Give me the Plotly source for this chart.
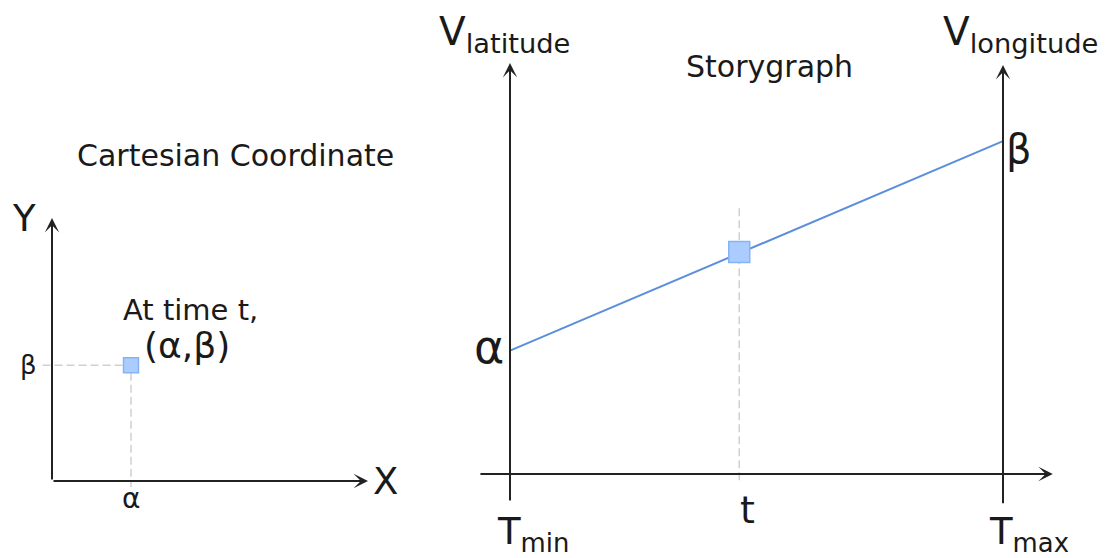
import plotly.graph_objects as go

W, H = 1106, 558

# ---------------- data ----------------
# Cartesian panel (axis units 0..1)
cart_axis_tip = [1.0, 1.0]          # X tip, Y tip
cart_alpha = [0.25]                 # x of the point
cart_beta = [0.44]                  # y of the point
cart_axis_labels = ["X", "Y"]
cart_tick_labels = ["α", "β"]
cart_point_labels = ["At time t,", "(α,β)"]

# Storygraph panel (time 0..1, value 0..1)
story_time = [0.0, 1.0]             # T_min, T_max
story_value = [0.30, 0.81]          # α on V_latitude, β on V_longitude
story_mark_time = [0.465]           # t
story_mark_value = [0.54]
story_time_labels = ["T<sub>min</sub>", "t", "T<sub>max</sub>"]
story_axis_labels = ["V<sub>latitude</sub>", "V<sub>longitude</sub>"]
story_value_labels = ["α", "β"]
titles = ["Cartesian Coordinate", "Storygraph"]

# ---------------- layout helpers ----------------
def xdom(px0, ppu, r):
    return [(px0 + r[0] * ppu) / W, (px0 + r[1] * ppu) / W]

def ydom(py0, ppu, r):
    return [(H - (py0 - r[0] * ppu)) / H, (H - (py0 - r[1] * ppu)) / H]

c_xr, c_yr = [-0.1, 1.15], [-0.1, 1.1]
s_xr, s_yr = [-0.12, 1.15], [-0.1, 1.05]

INK = "#1a1a1a"
AXC = "#222222"
FONT = "DejaVu Sans"
LINE_BLUE = "#5b8edb"
MARK_FILL = "#aaccff"
MARK_EDGE = "#86b3f7"
DASH_C = "#d0d0d0"

fig = go.Figure()

# Cartesian dashed guides
fig.add_trace(go.Scatter(
    x=[-0.03, cart_alpha[0], cart_alpha[0]],
    y=[cart_beta[0], cart_beta[0], -0.023],
    mode="lines", line=dict(color=DASH_C, width=1.5, dash="8px,4px"),
    xaxis="x", yaxis="y", hoverinfo="skip"))
fig.add_trace(go.Scatter(
    x=cart_alpha, y=cart_beta, mode="markers",
    marker=dict(symbol="square", size=15, color=MARK_FILL,
                line=dict(color=MARK_EDGE, width=1.5)),
    xaxis="x", yaxis="y", hoverinfo="skip"))

# Storygraph dashed guide at t
fig.add_trace(go.Scatter(
    x=[story_mark_time[0], story_mark_time[0]], y=[-0.015, 0.647],
    mode="lines", line=dict(color=DASH_C, width=1.5, dash="8px,4px"),
    xaxis="x2", yaxis="y2", hoverinfo="skip"))
fig.add_trace(go.Scatter(
    x=story_time, y=story_value, mode="lines",
    line=dict(color=LINE_BLUE, width=2),
    xaxis="x2", yaxis="y2", hoverinfo="skip"))
fig.add_trace(go.Scatter(
    x=story_mark_time, y=story_mark_value, mode="markers",
    marker=dict(symbol="square", size=21, color=MARK_FILL,
                line=dict(color=MARK_EDGE, width=1.5)),
    xaxis="x2", yaxis="y2", hoverinfo="skip"))

ann = []

def arrow(xh, yh, xt, yt, xr, yr):
    ann.append(dict(x=xh, y=yh, ax=xt, ay=yt, xref=xr, yref=yr,
                    axref=xr, ayref=yr, text="", showarrow=True,
                    arrowhead=3, arrowsize=1.2, arrowwidth=2,
                    arrowcolor=AXC, standoff=0))

# Cartesian axes
arrow(cart_axis_tip[0], 0, 0, 0, "x", "y")
arrow(0, cart_axis_tip[1], 0, 0, "x", "y")
# Storygraph axes
arrow(1.101, 0, -0.063, 0, "x2", "y2")
arrow(story_time[0], 1.0, story_time[0], -0.068, "x2", "y2")
arrow(story_time[1], 0.995, story_time[1], -0.075, "x2", "y2")

def label(text, x, y, xr, yr, size, xs=0, ys=0, xa="center"):
    ann.append(dict(text=text, x=x, y=y, xref=xr, yref=yr, showarrow=False,
                    xshift=xs, yshift=ys, xanchor=xa, yanchor="middle",
                    font=dict(family=FONT, size=size, color=INK)))

# Cartesian labels
label(cart_axis_labels[0], cart_axis_tip[0], 0, "x", "y", 37, xs=17, ys=0)
label(cart_axis_labels[1], 0, cart_axis_tip[1], "x", "y", 37, xs=-28, ys=0)
label(cart_tick_labels[0], cart_alpha[0], 0, "x", "y", 28, ys=-17)
label(cart_tick_labels[1], 0, cart_beta[0], "x", "y", 26, xs=-24, ys=0)
label(cart_point_labels[0], cart_alpha[0], cart_beta[0], "x", "y", 29, xs=59, ys=55)
label(cart_point_labels[1], cart_alpha[0], cart_beta[0], "x", "y", 36, xs=56, ys=20)

# Storygraph labels
label(story_value_labels[0], story_time[0], story_value[0], "x2", "y2", 46, xs=-21, ys=4)
label(story_value_labels[1], story_time[1], story_value[1], "x2", "y2", 40, xs=16, ys=-8)
label(story_time_labels[0], story_time[0], 0, "x2", "y2", 37, xs=23, ys=-60)
label(story_time_labels[1], story_mark_time[0], 0, "x2", "y2", 38, xs=8, ys=-36)
label(story_time_labels[2], story_time[1], 0, "x2", "y2", 37, xs=26, ys=-60)
label(story_axis_labels[0], story_time[0], 1.0, "x2", "y2", 39, xs=-6, ys=29)
label(story_axis_labels[1], story_time[1], 1.0, "x2", "y2", 39, xs=17, ys=29)

# Titles
label(titles[0], 235 / W, 1 - 156 / H, "paper", "paper", 30)
label(titles[1], 769 / W, 1 - 66 / H, "paper", "paper", 30)

ax_common = dict(visible=False, fixedrange=True)
fig.update_layout(
    width=W, height=H, autosize=False,
    margin=dict(l=0, r=0, t=0, b=0),
    paper_bgcolor="white", plot_bgcolor="white",
    showlegend=False,
    xaxis=dict(domain=xdom(52, 316, c_xr), range=c_xr, **ax_common),
    yaxis=dict(domain=ydom(481, 263, c_yr), range=c_yr, **ax_common),
    xaxis2=dict(domain=xdom(510, 493, s_xr), range=s_xr, anchor="y2", **ax_common),
    yaxis2=dict(domain=ydom(474, 411, s_yr), range=s_yr, anchor="x2", **ax_common),
    annotations=ann,
    font=dict(family=FONT),
)

fig.write_html("out.html", config={"displayModeBar": False, "staticPlot": True},
               post_script="document.body.style.margin='0';document.body.style.overflow='hidden';")
